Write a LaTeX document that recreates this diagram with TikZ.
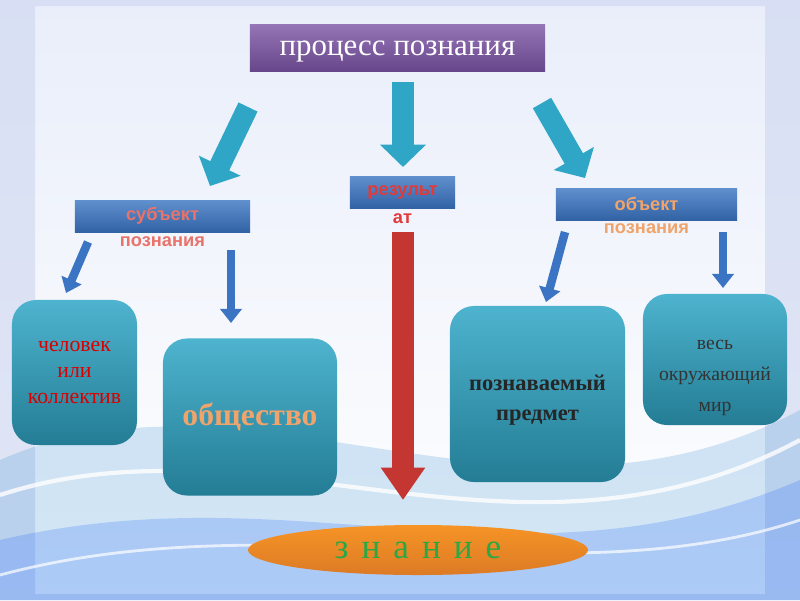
\documentclass[tikz,border=0pt]{standalone}
\usepackage{fontspec}
\setmainfont{Liberation Serif}
\setsansfont{Liberation Sans}
\usepackage{xcolor}
\usepackage{tikz}
\usetikzlibrary{shapes.geometric, arrows.meta}

\definecolor{fon}{HTML}{E9EEFA}
\definecolor{kraj}{HTML}{CDD6F0}
\definecolor{lila}{HTML}{7A52A3}
\definecolor{sinij}{HTML}{3A74C2}
\definecolor{biruza}{HTML}{2FA6C6}
\definecolor{krasn}{HTML}{C43632}
\definecolor{oranzh}{HTML}{F5882A}
\definecolor{losos}{HTML}{E8736A}
\definecolor{persik}{HTML}{F0A36A}
\definecolor{alyj}{HTML}{E03A3A}
\definecolor{zelen}{HTML}{2AA845}

\tikzset{
  ramka/.style={rectangle, inner sep=0pt, top color=#1!80!white, bottom color=#1!85!black, draw=none},
  kubik/.style={rectangle, rounded corners=0.6cm, inner sep=0pt, top color=biruza!85!white, bottom color=biruza!75!black, align=center},
  bolshaya/.style={line width=15pt, -{Triangle[width=32pt,length=16pt]}, draw=biruza},
  malaya/.style={line width=6pt, -{Triangle[width=15pt,length=10pt]}, draw=sinij},
  podpis/.style={font=\sffamily\bfseries\fontsize{13}{15}\selectfont}
}

\begin{document}
\begin{tikzpicture}[x=0.025cm, y=-0.025cm]

\useasboundingbox (0,0) rectangle (800,600);

% фон
\fill[top color=fon, bottom color=white] (0,0) rectangle (800,600);
\fill[even odd rule, fill=kraj, opacity=0.6] (0,0) rectangle (800,600) (35,6) rectangle (765,594);
\fill[cyan!60!blue, opacity=0.18] (0,460) .. controls (250,350) and (520,560) .. (800,410) -- (800,600) -- (0,600) -- cycle;
\fill[blue!70!cyan, opacity=0.18] (0,540) .. controls (300,470) and (520,600) .. (800,480) -- (800,600) -- (0,600) -- cycle;
\draw[white, line width=3pt, opacity=0.8] (0,495) .. controls (260,410) and (520,590) .. (800,440);
\draw[white, line width=2pt, opacity=0.7] (0,575) .. controls (280,500) and (560,600) .. (800,520);

% верх
\node[ramka=lila, minimum width=7.375cm, minimum height=1.15cm, text=white,
  text height=10pt, text depth=0pt,
  font=\fontsize{22}{26}\selectfont] (proc) at (397.5,48) {процесс познания};

% подписи
\node[ramka=sinij, minimum width=4.375cm, minimum height=0.8cm, podpis, text=losos] (subj) at (162.5,216) {субъект};
\node[podpis, text=losos, inner sep=0pt] (subj2) at (162.5,242) {познания};
\node[ramka=sinij, minimum width=2.625cm, minimum height=0.8cm, podpis, text=alyj] (rez) at (402.5,192) {результ};
\node[podpis, text=alyj, inner sep=0pt] (rez2) at (402.5,219) {ат};
\node[ramka=sinij, minimum width=4.525cm, minimum height=0.8cm, podpis, text=persik] (obj) at (646.5,204) {объект};
\node[podpis, text=persik, inner sep=0pt] (obj2) at (646.5,229) {познания};

% блоки
\node[kubik, minimum width=3.125cm, minimum height=3.625cm, text=red!85!black,
  font=\fontsize{15.5}{18.5}\selectfont] (chel) at (74.5,372.5) {человек\\или\\коллектив};
\node[kubik, minimum width=4.35cm, minimum height=3.925cm, text=persik,
  font=\bfseries\fontsize{22.5}{26}\selectfont] (obsh) at (250,417) {общество};
\node[kubik, minimum width=4.375cm, minimum height=4.4cm] (pozn) at (537.5,394) {};
\node[align=center, text=black!85, font=\bfseries\fontsize{16}{21}\selectfont] (poznT) at (537.5,400) {познаваемый\\предмет};
\node[kubik, minimum width=3.6cm, minimum height=3.275cm] (ves) at (715,359.5) {};
\node[align=center, text=black!80, font=\fontsize{14}{22}\selectfont] (vesT) at (715,378) {весь\\окружающий\\мир};

\node[ellipse, inner sep=0pt, minimum width=8.5cm, minimum height=1.25cm,
  top color=oranzh!90!yellow, bottom color=oranzh!90!black, text=zelen,
  font=\fontsize{25}{28}\selectfont] (zn) at (418,550)
  {з\hspace{0.37em}н\hspace{0.37em}а\hspace{0.37em}н\hspace{0.37em}и\hspace{0.37em}е};

% концы стрелок
\coordinate (bl1) at (248,107); \coordinate (bl2) at (210,186);
\coordinate (bc1) at (403,82);  \coordinate (bc2) at (403,167);
\coordinate (br1) at (542,103); \coordinate (br2) at (585,178);
\coordinate (ml1) at (88,242);  \coordinate (ml2) at (66,293);
\coordinate (mr1) at (231,250); \coordinate (mr2) at (231,323);
\coordinate (ol1) at (565,232); \coordinate (ol2) at (546,302);
\coordinate (or1) at (723,232); \coordinate (or2) at (723,288);
\coordinate (kr1) at (403,232); \coordinate (kr2) at (403,500);

% стрелки
\draw[bolshaya] (bl1) -- (bl2);
\draw[bolshaya] (bc1) -- (bc2);
\draw[bolshaya] (br1) -- (br2);
\draw[malaya] (ml1) -- (ml2);
\draw[malaya] (mr1) -- (mr2);
\draw[malaya] (ol1) -- (ol2);
\draw[malaya] (or1) -- (or2);
\draw[line width=15pt, -{Triangle[width=30pt,length=23pt]}, draw=krasn] (kr1) -- (kr2);

\end{tikzpicture}
\end{document}
